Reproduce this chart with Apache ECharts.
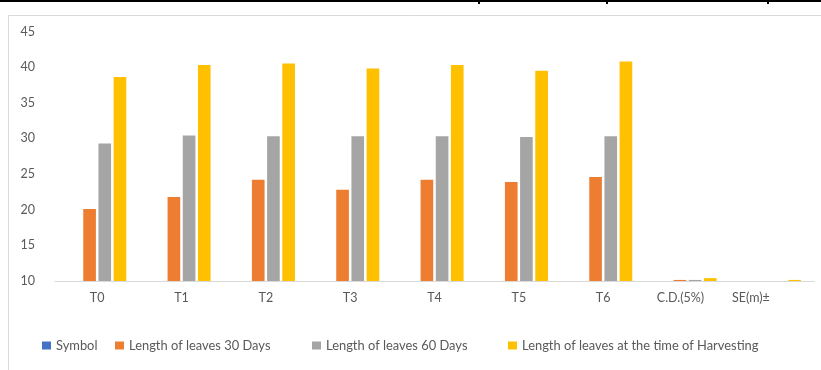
<!DOCTYPE html>
<html>
<head>
<meta charset="utf-8">
<script src="https://cdn.jsdelivr.net/npm/echarts@6/dist/echarts.min.js"></script>
<style>
  html, body { margin: 0; padding: 0; background: #fff; }
  #chart { width: 821px; height: 370px; }
</style>
</head>
<body>
<div id="chart"></div>
<script>
// Treatments and summary statistics along the x axis
const categories = ['T0', 'T1', 'T2', 'T3', 'T4', 'T5', 'T6', 'C.D.(5%)', 'SE(m)±'];

// Leaf length series
const symbolValues = [null, null, null, null, null, null, null, null, null];
const length30Days = [20.1, 21.8, 24.2, 22.8, 24.2, 23.9, 24.6, 10.15, null];
const length60Days = [29.3, 30.4, 30.3, 30.3, 30.3, 30.2, 30.3, 10.15, null];
const lengthHarvest = [38.6, 40.3, 40.5, 39.8, 40.3, 39.5, 40.8, 10.4, 10.15];

const seriesNames = [
  'Symbol',
  'Length of leaves 30 Days',
  'Length of leaves 60 Days',
  'Length of leaves at the time of Harvesting'
];
const seriesColors = ['#4472C4', '#ED7D31', '#A5A5A5', '#FFC000'];
const seriesData = [symbolValues, length30Days, length60Days, lengthHarvest];

// Y axis range
const yMin = 10, yMax = 45, yStep = 5;

const font = 'Lato, "Open Sans", sans-serif';
const textColor = '#595959';

const chart = echarts.init(document.getElementById('chart'), null, { renderer: 'canvas' });

// One legend block per series so each entry sits in its own column
const legendLefts = [42, 115, 312, 508];
const legends = seriesNames.map((name, i) => ({
  data: [name],
  left: legendLefts[i],
  top: 339,
  padding: 0,
  itemWidth: 9,
  itemHeight: 8,
  itemGap: 6,
  icon: 'rect',
  textStyle: { fontFamily: font, fontSize: 12.9, color: textColor },
  selectedMode: false
}));

chart.setOption({
  animation: false,
  backgroundColor: '#ffffff',
  textStyle: { fontFamily: font },
  graphic: [
    // frame around the chart area
    { type: 'rect', shape: { x: 8.5, y: 15.5, width: 830, height: 400 },
      style: { fill: 'none', stroke: '#d9d9d9', lineWidth: 1 }, silent: true },
    // table rule above the chart
    { type: 'rect', shape: { x: 0, y: 0, width: 821, height: 2 },
      style: { fill: '#000' }, silent: true },
    { type: 'rect', shape: { x: 478, y: 0, width: 2, height: 4 }, style: { fill: '#000' }, silent: true },
    { type: 'rect', shape: { x: 606, y: 0, width: 2, height: 4 }, style: { fill: '#000' }, silent: true },
    { type: 'rect', shape: { x: 767, y: 0, width: 2, height: 4 }, style: { fill: '#000' }, silent: true }
  ],
  legend: legends,
  grid: { left: 55, right: 7, top: 31.5, bottom: 89, containLabel: false },
  xAxis: {
    type: 'category',
    data: categories,
    axisLine: { show: true, lineStyle: { color: '#d9d9d9', width: 1 } },
    axisTick: { show: false },
    axisLabel: {
      color: textColor, fontSize: 12.5, fontFamily: font, margin: 10, interval: 0,
      // the two statistic labels sit a little left of their bar groups
      formatter: (v) => v === 'C.D.(5%)' ? '{cd|' + v + '}' : (v === 'SE(m)±' ? '{se|' + v + '}' : v),
      rich: {
        cd: { color: textColor, fontSize: 12.5, fontFamily: font, padding: [0, 14, 0, 0] },
        se: { color: textColor, fontSize: 12.5, fontFamily: font, padding: [0, 42, 0, 0] }
      }
    }
  },
  yAxis: {
    type: 'value',
    min: yMin,
    max: yMax,
    interval: yStep,
    axisLine: { show: false },
    axisTick: { show: false },
    splitLine: { show: false },
    axisLabel: { color: textColor, fontSize: 12.5, fontFamily: font, margin: 20 }
  },
  series: seriesNames.map((name, i) => ({
    name: name,
    type: 'bar',
    data: seriesData[i],
    barWidth: '15%',
    barGap: '20%',
    itemStyle: { color: seriesColors[i] }
  }))
});
</script>
</body>
</html>
